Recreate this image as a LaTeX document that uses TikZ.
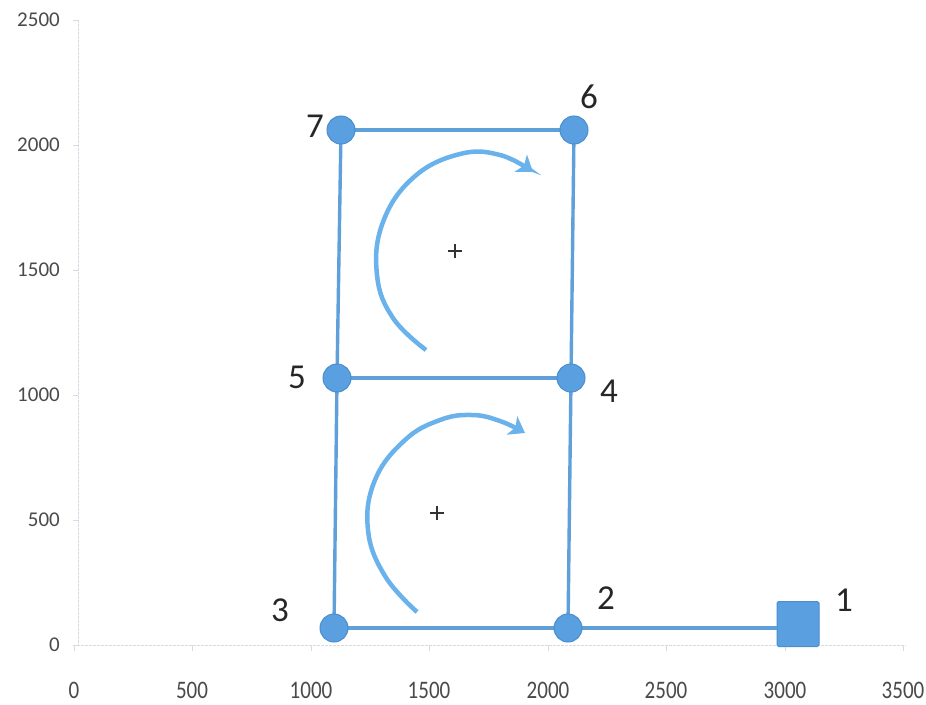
\documentclass[tikz,border=0pt]{standalone}
\usepackage{fontspec}
\setmainfont{Carlito}
\usetikzlibrary{arrows.meta}
\definecolor{edgeblue}{HTML}{5FA0DA}
\definecolor{nodeblue}{HTML}{5A9FE0}
\definecolor{nodeedge}{HTML}{4A8ED0}
\definecolor{arcblue}{HTML}{6AB2EC}
\definecolor{axisgray}{HTML}{D6DCE4}
\definecolor{ticktext}{HTML}{4A4A4A}
\tikzset{
  x=1pt, y=-1pt,
  joint/.style={circle, fill=nodeblue, draw=nodeedge, line width=1pt, minimum size=28pt, inner sep=0pt},
  support/.style={rectangle, fill=nodeblue, draw=nodeedge, line width=1pt, minimum width=42pt, minimum height=45pt, inner sep=0pt, rounded corners=1.5pt},
  member/.style={draw=edgeblue, line width=3.4pt},
  numlabel/.style={font=\fontsize{35}{35}\selectfont, text=black!85, inner sep=0pt},
  axlabel/.style={font=\fontsize{21}{21}\selectfont, text=ticktext, inner sep=0pt},
  xlabel/.style={axlabel, yscale=1.2},
  rotarrow/.style={draw=arcblue, line width=4.5pt, -{Stealth[length=15pt, width=21pt, inset=4pt]}},
  plusmark/.style={draw=black!80, line width=1.8pt},
  axisline/.style={draw=axisgray, line width=1pt, dash pattern=on 3pt off 1pt}
}
\begin{document}
\begin{tikzpicture}
\useasboundingbox (0,0) rectangle (926,704);
\fill[white] (0,0) rectangle (926,704);
% axes
\coordinate (ytop) at (78,20);
\coordinate (orig) at (78,645);
\coordinate (xend) at (906,645);
\draw[axisline] (ytop) -- (orig) -- (xend);
\foreach \yy/\lab in {20/2500,145/2000,270/1500,395/1000,520/500,645/0}{
  \draw[axisgray, line width=0.8pt] (73,\yy) -- (78,\yy);
  \node[axlabel, anchor=east] (yl\lab) at (60,\yy) {\lab};
}
\foreach \xx/\lab in {74/0,192/500,311/1000,429/1500,548/2000,666/2500,785/3000,903/3500}{
  \draw[axisgray, line width=0.8pt] (\xx,645) -- (\xx,651);
  \node[xlabel] (xl\lab) at (\xx,690) {\lab};
}
% members
\coordinate (c7) at (341,130);
\coordinate (c6) at (574,130);
\coordinate (c5) at (337,378);
\coordinate (c4) at (571,378);
\coordinate (c3) at (334,628);
\coordinate (c2) at (568,628);
\coordinate (c1) at (798,624);
\node[support] (n1) at (c1) {};
\draw[member] (c7) -- (c6);
\draw[member] (c7) -- (c5);
\draw[member] (c6) -- (c4);
\draw[member] (c5) -- (c4);
\draw[member] (c5) -- (c3);
\draw[member] (c4) -- (c2);
\draw[member] (c3) -- (c2);
\draw[member] (c2) -- (n1.west |- c2);
% joints
\node[joint] (n7) at (c7) {};
\node[joint] (n6) at (c6) {};
\node[joint] (n5) at (c5) {};
\node[joint] (n4) at (c4) {};
\node[joint] (n3) at (c3) {};
\node[joint] (n2) at (c2) {};
% labels
\node[numlabel] (l7) at (315,126) {7};
\node[numlabel] (l6) at (589,97) {6};
\node[numlabel] (l5) at (297,377) {5};
\node[numlabel] (l4) at (609,391) {4};
\node[numlabel] (l3) at (280,610) {3};
\node[numlabel] (l2) at (606,598) {2};
\node[numlabel] (l1) at (844,600) {1};
% rotation arrows
\draw[rotarrow] plot[smooth, tension=0.7] coordinates {(426,350) (393,318) (377,275) (383,222) (414,177) (460,154) (500,155) (533,172)};
\draw[rotarrow] plot[smooth, tension=0.7] coordinates {(417,612) (385,576) (368,530) (375,480) (405,440) (440,420) (472,415) (500,421) (525,433)};
% plus marks
\coordinate (p1) at (455,251);
\coordinate (p2) at (437,513);
\draw[plusmark] ([xshift=-7pt]p1) -- ([xshift=7pt]p1) ([yshift=-7pt]p1) -- ([yshift=7pt]p1);
\draw[plusmark] ([xshift=-7pt]p2) -- ([xshift=7pt]p2) ([yshift=-7pt]p2) -- ([yshift=7pt]p2);
\end{tikzpicture}
\end{document}
